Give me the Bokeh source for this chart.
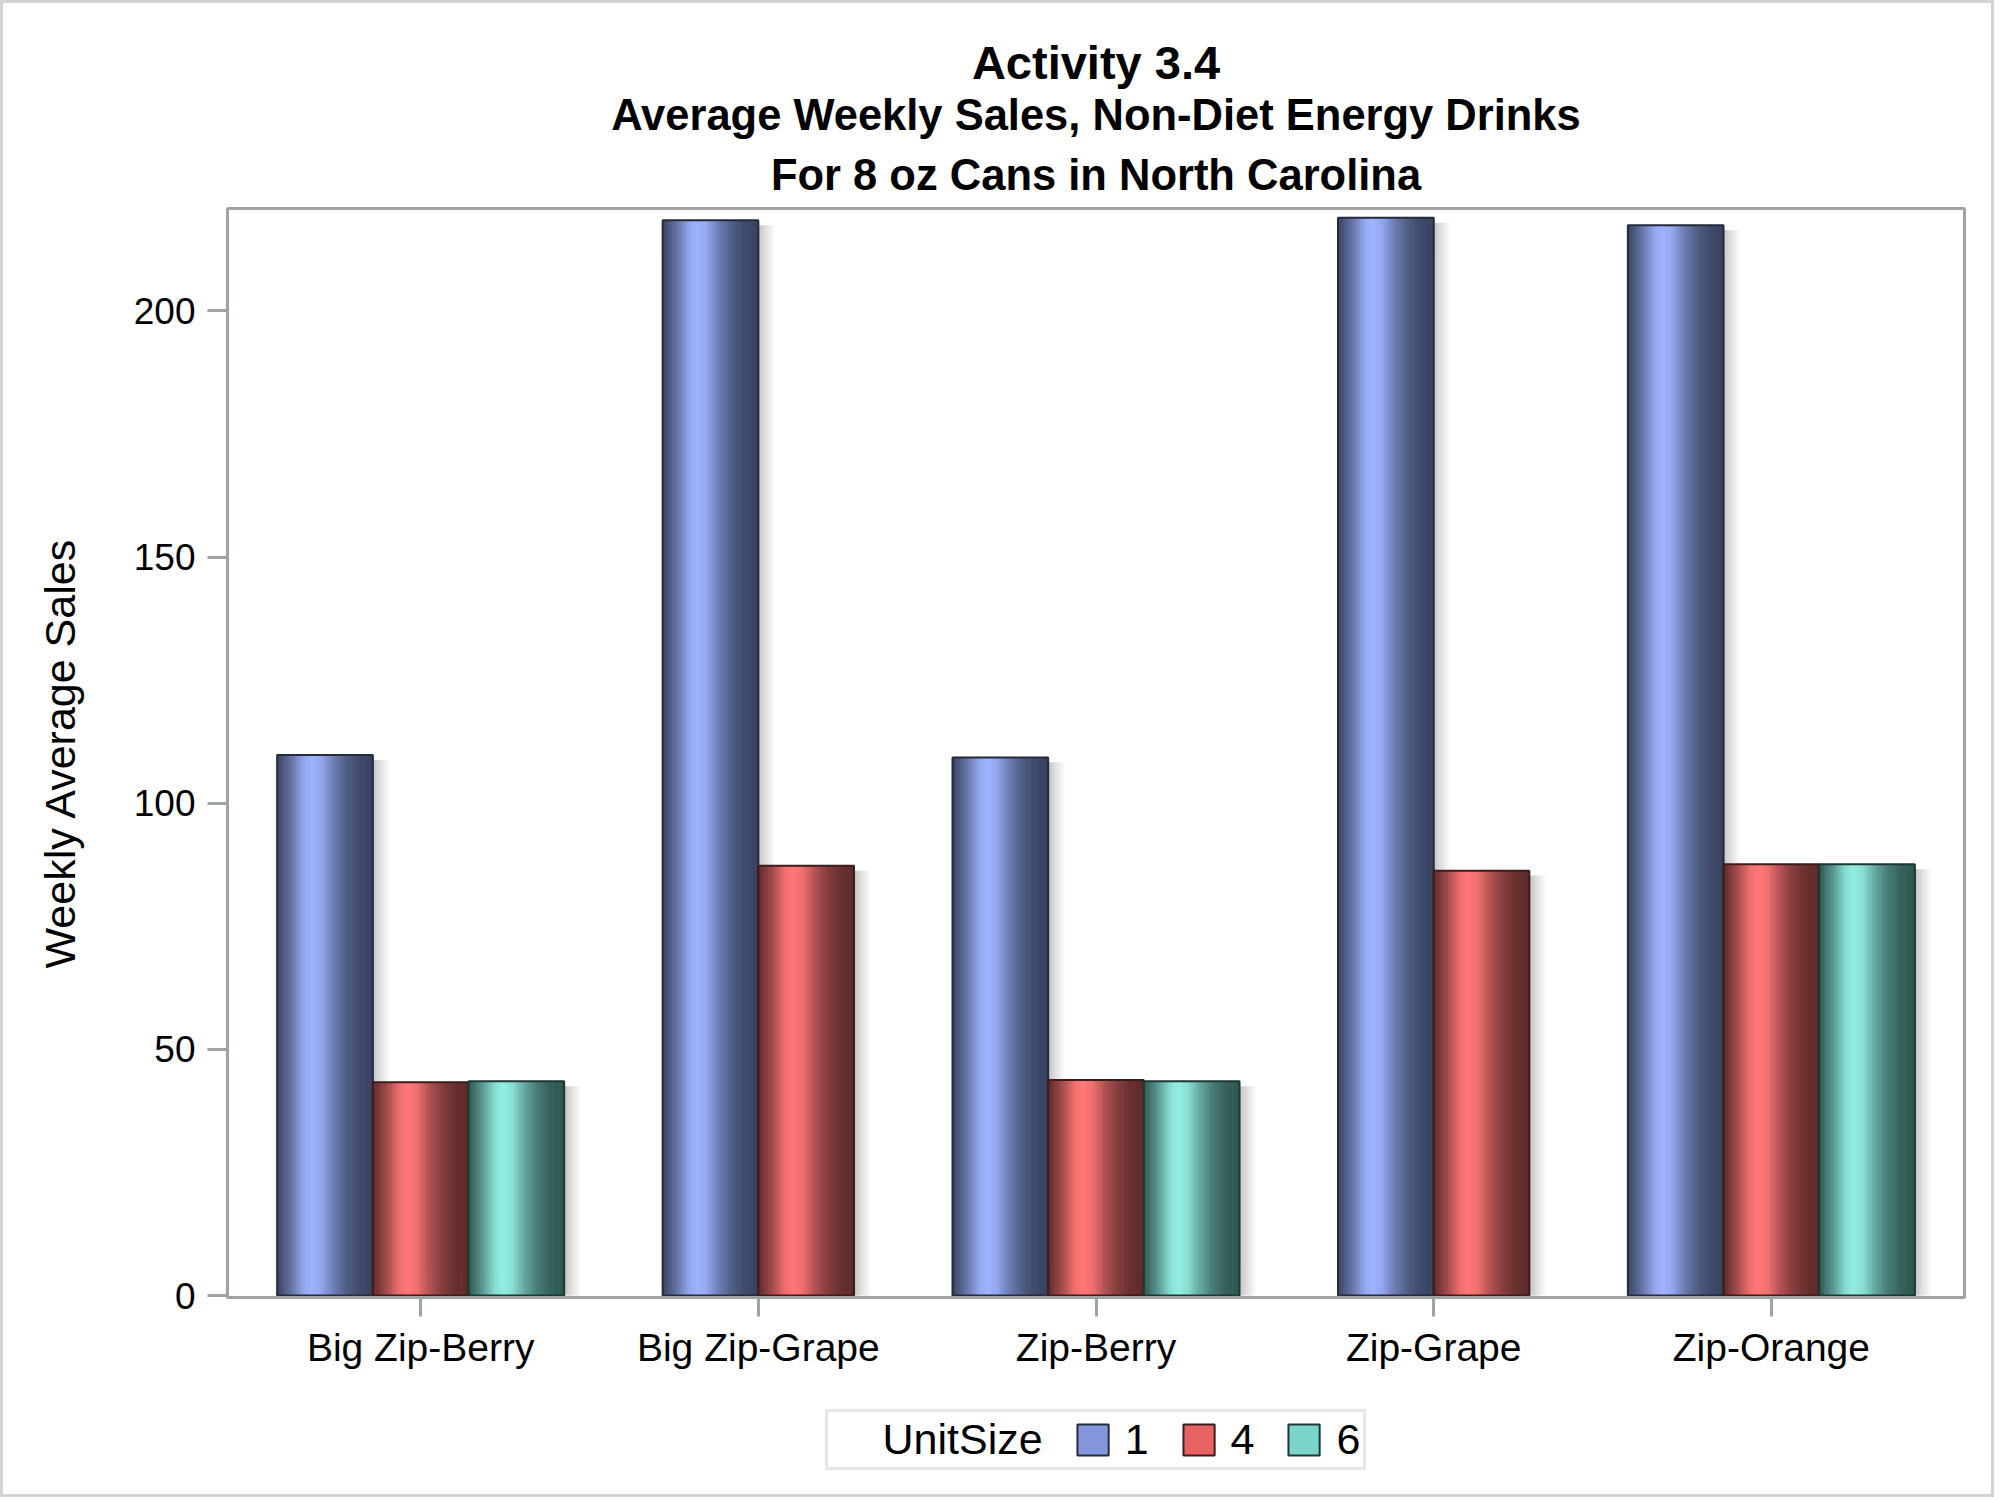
import numpy as np
from bokeh.plotting import figure
from bokeh.layouts import column
from bokeh.models import (Range1d, FixedTicker, Title, Legend, LegendItem,
                          ColumnDataSource)
from bokeh.embed import file_html
from bokeh.resources import INLINE

# ---------------- data ----------------
categories = ["Big Zip-Berry", "Big Zip-Grape", "Zip-Berry", "Zip-Grape", "Zip-Orange"]
unit_sizes = ["1", "4", "6"]
sales_1 = [109.8, 218.4, 109.3, 218.9, 217.4]
sales_4 = [43.3, 87.3, 43.8, 86.3, 87.6]
sales_6 = [43.5, None, 43.5, None, 87.6]
y_ticks = [0, 50, 100, 150, 200]

title_lines = ["Activity 3.4",
               "Average Weekly Sales, Non-Diet Energy Drinks",
               "For 8 oz Cans in North Carolina"]
legend_title = "UnitSize"

# ---------------- styles ----------------
FONT = "Liberation Sans"
GRAY = "#9ea3a8"
dark_cols = {"1": (0x38, 0x42, 0x5e), "4": (0x5c, 0x2a, 0x2a), "6": (0x2e, 0x55, 0x4f)}
bright_cols = {"1": (0x9f, 0xb3, 0xff), "4": (0xff, 0x78, 0x78), "6": (0x93, 0xee, 0xe2)}
edge_cols = {"1": "#252b3d", "4": "#3f1c1c", "6": "#1d3834"}
legend_cols = {"1": "#8597dc", "4": "#e86464", "6": "#7ad6ca"}
prof_t = [0.0, 0.05, 0.15, 0.28, 0.36, 0.46, 0.58, 0.72, 0.85, 1.0]
prof_f = [0.02, 0.15, 0.45, 0.9, 1.0, 0.9, 0.55, 0.25, 0.08, 0.0]

BAR_W = 0.2833
N_STRIPS = 40
SHADOW_W = 0.055
B = 3  # outer page border width


def mix(c1, c2, f):
    return "#%02x%02x%02x" % tuple(int(round(a + (b - a) * f)) for a, b in zip(c1, c2))


series = {"1": sales_1, "4": sales_4, "6": sales_6}

p = figure(frame_width=1737, frame_height=1089,
           x_range=Range1d(-0.572, 4.572), y_range=Range1d(-0.4, 220.8),
           output_backend="svg", toolbar_location=None, title=None,
           min_border_left=227 - B, min_border_right=27, min_border_top=208 - B,
           min_border_bottom=100)
p.background_fill_color = "white"
p.border_fill_color = "white"
p.outline_line_color = GRAY
p.outline_line_width = 3
p.xgrid.visible = False
p.ygrid.visible = False

# bar geometry
bars = []  # (unit, left, right, value)
for i, cat in enumerate(categories):
    present = [u for u in unit_sizes if series[u][i] is not None]
    n = len(present)
    for k, u in enumerate(present):
        center = i + (k - (n - 1) / 2.0) * BAR_W
        bars.append((u, center - BAR_W / 2, center + BAR_W / 2, series[u][i]))

# shadows
sh = dict(left=[], right=[], top=[], bottom=[], color=[])
NS = 10
for u, l, r, v in bars:
    for j in range(NS):
        f = j / (NS - 1)
        sh["left"].append(r + SHADOW_W * j / NS)
        sh["right"].append(r + SHADOW_W * (j + 1) / NS + 0.001)
        sh["top"].append(v - 1.0)
        sh["bottom"].append(0)
        sh["color"].append(mix((0xc2, 0xc2, 0xc2), (0xff, 0xff, 0xff), f ** 0.8))
p.quad(left="left", right="right", top="top", bottom="bottom", fill_color="color",
       line_color=None, source=ColumnDataSource(sh))

# gradient bars
bar_sources = {}
for u in unit_sizes:
    o = dict(left=[b[1] for b in bars if b[0] == u], right=[b[2] for b in bars if b[0] == u],
             top=[b[3] for b in bars if b[0] == u], bottom=[0 for b in bars if b[0] == u])
    src_o = ColumnDataSource(o)
    bar_sources[u] = src_o
    p.quad(left="left", right="right", top="top", bottom="bottom",
           fill_color=legend_cols[u], line_color=None, source=src_o)
    d = dict(left=[], right=[], top=[], bottom=[], color=[])
    for uu, l, r, v in bars:
        if uu != u:
            continue
        for j in range(N_STRIPS):
            t = (j + 0.5) / N_STRIPS
            f = float(np.interp(t, prof_t, prof_f))
            d["left"].append(l + (r - l) * j / N_STRIPS)
            d["right"].append(l + (r - l) * (j + 1) / N_STRIPS + 0.0015)
            d["top"].append(v)
            d["bottom"].append(0)
            d["color"].append(mix(dark_cols[u], bright_cols[u], f))
    p.quad(left="left", right="right", top="top", bottom="bottom", fill_color="color",
           line_color=None, source=ColumnDataSource(d))
    p.quad(left="left", right="right", top="top", bottom="bottom", fill_color=None,
           line_color=edge_cols[u], line_width=2, source=src_o)

# axes
p.xaxis.ticker = FixedTicker(ticks=list(range(len(categories))))
p.xaxis.major_label_overrides = {i: c for i, c in enumerate(categories)}
p.yaxis.ticker = FixedTicker(ticks=y_ticks)
for ax in (p.xaxis, p.yaxis):
    ax.axis_line_color = GRAY
    ax.axis_line_width = 3
    ax.major_tick_line_color = GRAY
    ax.major_tick_line_width = 3
    ax.major_tick_in = 0
    ax.minor_tick_line_color = None
    ax.major_label_text_font = FONT
    ax.major_label_text_color = "black"
p.xaxis.major_label_standoff = 9
p.yaxis.major_label_standoff = 12
p.xaxis.major_tick_out = 19
p.yaxis.major_tick_out = 20
p.xaxis.major_label_text_font_size = "39px"
p.yaxis.major_label_text_font_size = "37px"
p.yaxis.axis_label = "Weekly Average Sales"
p.yaxis.axis_label_text_font = FONT
p.yaxis.axis_label_text_font_size = "43px"
p.yaxis.axis_label_text_font_style = "normal"
p.yaxis.axis_label_text_color = "black"
p.yaxis.axis_label_standoff = 47

# titles (added from closest to the plot outward)
sizes = ["47px", "43.5px", "43.5px"]
for k, (txt, sz) in enumerate(reversed(list(zip(title_lines, sizes)))):
    p.add_layout(Title(text=txt, align="center", text_font=FONT, text_font_size=sz,
                       text_font_style="bold", text_color="black",
                       standoff=20 if k == 0 else 0), "above")

# ---------------- legend strip below the chart ----------------
p2 = figure(width=227 - B + 1737 + 27, height=97, x_range=p.x_range, y_range=Range1d(-3, -2),
            x_axis_type=None, y_axis_type=None, output_backend="svg",
            toolbar_location=None, min_border_left=227 - B, min_border_right=27,
            min_border_top=0, min_border_bottom=0)
p2.outline_line_color = None
p2.background_fill_color = "white"
p2.border_fill_color = "white"

blank = p2.quad(left=[], right=[], top=[], bottom=[], fill_alpha=0, line_alpha=0)
items = [LegendItem(label=legend_title, renderers=[blank])]
for u in unit_sizes:
    r = p2.quad(left="left", right="right", top="top", bottom="bottom",
                fill_color=legend_cols[u], line_color=edge_cols[u], line_width=2,
                source=bar_sources[u])
    items.append(LegendItem(label=u, renderers=[r]))
legend = Legend(items=items, orientation="horizontal", location="top")
legend.label_text_font = FONT
legend.label_text_font_size = "43px"
legend.label_text_color = "black"
legend.glyph_width = 39
legend.glyph_height = 39
legend.label_standoff = 13
legend.spacing = 30
legend.padding = 3
legend.margin = 12
legend.border_line_color = "#d0d0d0"
legend.border_line_width = 3
legend.background_fill_color = "white"
legend.background_fill_alpha = 1.0
p2.add_layout(legend)

layout = column(p, p2, spacing=0, styles={"border": "%dpx solid #d3d3d3" % B})
open("out.html", "w").write(file_html(layout, INLINE))
